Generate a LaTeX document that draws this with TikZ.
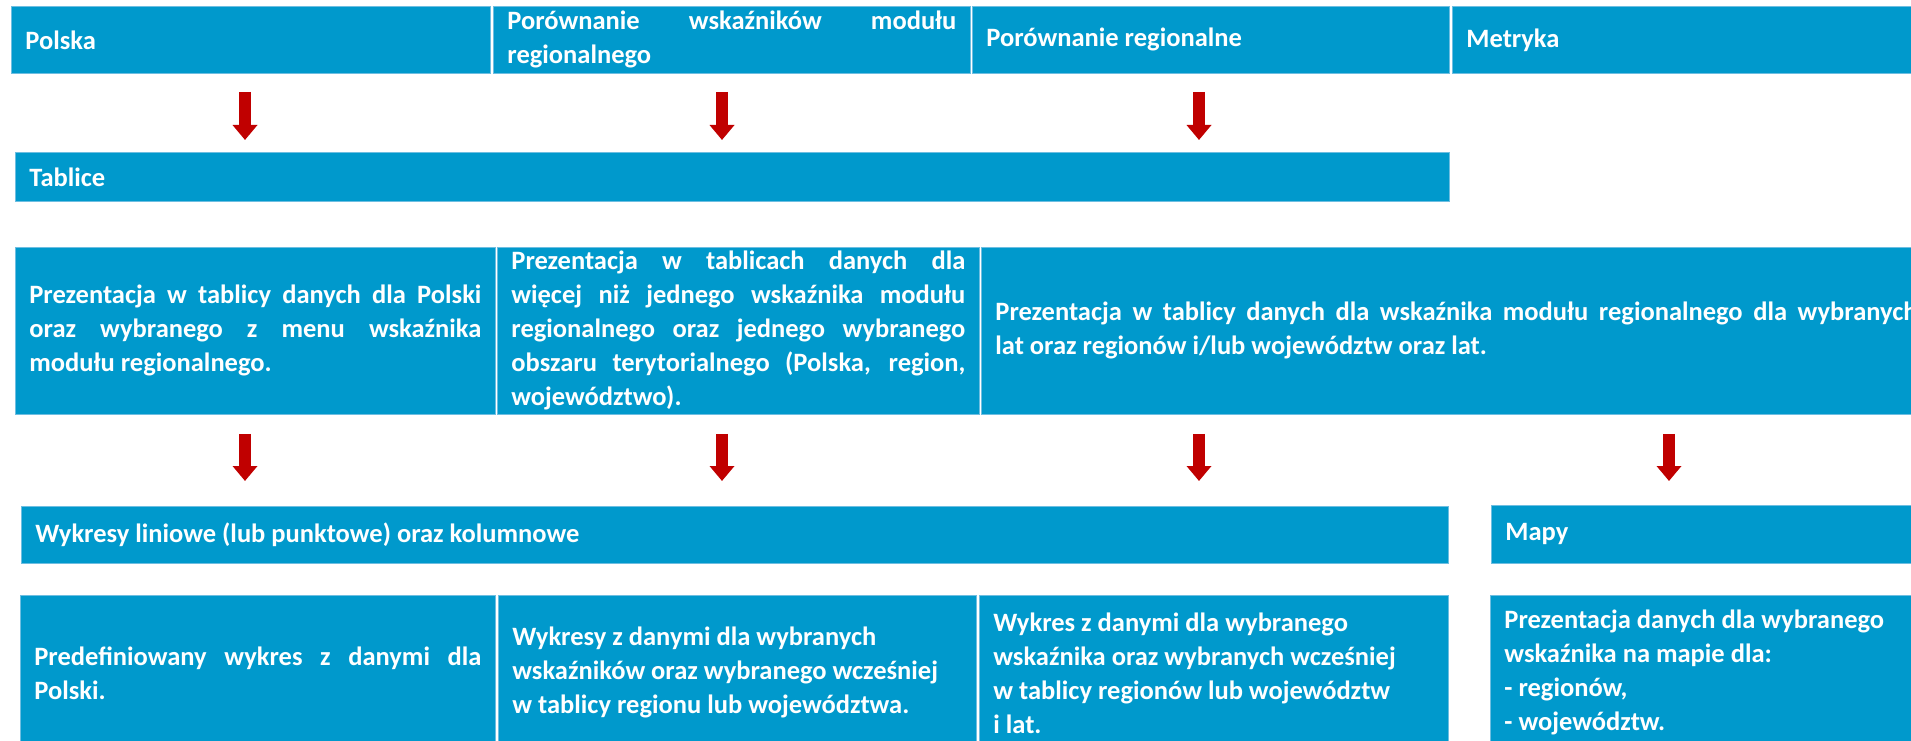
\documentclass[tikz,border=0pt]{standalone}
\usepackage{fontspec}
\setmainfont{Carlito}
\usetikzlibrary{arrows.meta,calc}
\definecolor{cellblue}{RGB}{0,153,204}
\definecolor{celledge}{RGB}{110,190,225}
\definecolor{arrowred}{RGB}{192,0,0}
\newcommand{\spread}[2]{\makebox[#1][s]{#2}}

\begin{document}
\begin{tikzpicture}
  [
    x = 1pt,
    y = -1pt,
    font = \bfseries\fontsize{26.5}{34}\selectfont,
    cell/.style = {
      fill = cellblue,
      draw = celledge,
      line width = 0.8pt,
      text = white,
      anchor = north west,
      align = left,
      inner xsep = 14pt,
      inner ysep = 0pt,
      execute at begin node = {\spaceskip=0pt\xspaceskip=0pt},
    },
    toprow/.style = {cell, minimum height = 67pt},
    bar/.style = {cell, minimum height = 49pt},
    midrow/.style = {cell, minimum height = 167pt},
    lowbar/.style = {cell, minimum height = 57pt},
    lowrow/.style = {cell, minimum height = 155pt},
    redarrow/.style = {
      draw = arrowred,
      line width = 12pt,
      -{Triangle[width=24pt,length=15pt]},
    },
  ]
  \useasboundingbox (0,0) rectangle (1911,741);

  % menu
  \node (polska)  [toprow, text width = 451pt] at (11,6)   {Polska};
  \node (porwsk)  [toprow, text width = 449pt] at (493,6)
    {\spread{449pt}{Porównanie wskaźników modułu}\\regionalnego};
  \node (porreg)  [toprow, text width = 449pt] at (972,6)  {Porównanie regionalne};
  \node (metryka) [toprow, text width = 442pt] at (1452,6) {Metryka};

  \node (tablice) [bar, text width = 1406pt] at (15,152) {Tablice};

  % tables
  \node (prez1) [midrow, text width = 452pt] at (15,247)
    {\spread{452pt}{Prezentacja w tablicy danych dla Polski}\\
     \spread{452pt}{oraz wybranego z menu wskaźnika}\\
     modułu regionalnego.};
  \node (prez2) [midrow, text width = 454pt] at (497,247)
    {\spread{454pt}{Prezentacja w tablicach danych dla}\\
     \spread{454pt}{więcej niż jednego wskaźnika modułu}\\
     \spread{454pt}{regionalnego oraz jednego wybranego}\\
     \spread{454pt}{obszaru terytorialnego (Polska, region,}\\
     województwo).};
  \node (prez3) [midrow, text width = 922pt] at (981,247)
    {\spread{922pt}{Prezentacja w tablicy danych dla wskaźnika modułu regionalnego dla wybranych}\\
     lat oraz regionów i/lub województw oraz lat.};

  \node (wykresy) [lowbar, text width = 1399pt] at (21,506)
    {Wykresy liniowe (lub punktowe) oraz kolumnowe};
  \node (mapy) [lowbar, minimum height = 58pt, text width = 402pt] at (1491,505) {Mapy};

  % charts and maps
  \node (pred) [lowrow, text width = 447pt] at (20,595)
    {\spread{447pt}{Predefiniowany wykres z danymi dla}\\Polski.};
  \node (wyk2) [lowrow, text width = 450pt] at (498,595)
    {Wykresy z danymi dla wybranych\\
     wskaźników oraz wybranego wcześniej\\
     w tablicy regionu lub województwa.};
  \node (wyk3) [lowrow, text width = 441pt] at (979,595)
    {Wykres z danymi dla wybranego\\
     wskaźnika oraz wybranych wcześniej\\
     w tablicy regionów lub województw\\
     i lat.};
  \node (mapy2) [lowrow, text width = 402pt] at (1490,595)
    {Prezentacja danych dla wybranego\\
     wskaźnika na mapie dla:\\
     - regionów,\\
     - województw.};

  % arrows
  \coordinate (k1) at (245,0);
  \coordinate (k2) at (722,0);
  \coordinate (k3) at (1199,0);
  \coordinate (k4) at (1669,0);

  \draw [redarrow] ($ (polska.south -| k1) + (0,18) $) -- ($ (tablice.north -| k1) - (0,12) $);
  \draw [redarrow] ($ (porwsk.south -| k2) + (0,18) $) -- ($ (tablice.north -| k2) - (0,12) $);
  \draw [redarrow] ($ (porreg.south -| k3) + (0,18) $) -- ($ (tablice.north -| k3) - (0,12) $);

  \draw [redarrow] ($ (prez1.south -| k1) + (0,19) $) -- ($ (wykresy.north -| k1) - (0,25) $);
  \draw [redarrow] ($ (prez2.south -| k2) + (0,19) $) -- ($ (wykresy.north -| k2) - (0,25) $);
  \draw [redarrow] ($ (prez3.south -| k3) + (0,19) $) -- ($ (wykresy.north -| k3) - (0,25) $);
  \draw [redarrow] ($ (prez3.south -| k4) + (0,19) $) -- ($ (mapy.north -| k4) - (0,24) $);

\end{tikzpicture}
\end{document}
